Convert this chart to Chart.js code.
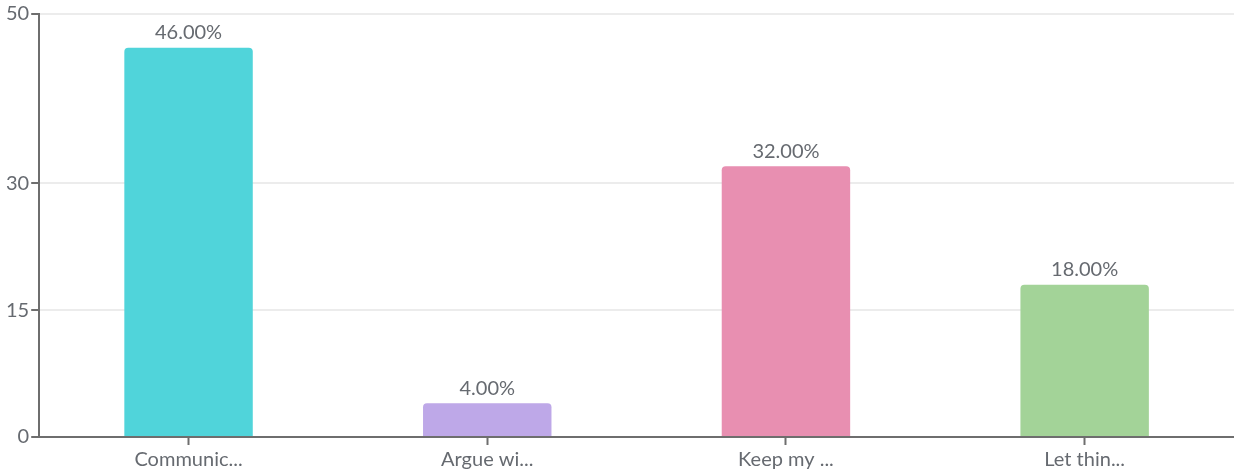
<!DOCTYPE html>
<html lang="en">
<head>
    <meta charset="UTF-8">
    <title>Bar chart</title>
    <style>
        html, body { margin: 0; padding: 0; background: #fff; }
        .chart-container { position: relative; width: 1234px; height: 475px; }
    </style>
</head>
<body>
    <div class="chart-container">
        <canvas id="chart"></canvas>
    </div>

    <script src="https://cdn.jsdelivr.net/npm/chart.js@4/dist/chart.umd.min.js"></script>
    <script>
        // Datos
        const categories = ['Communic...', 'Argue wi...', 'Keep my ...', 'Let thin...'];
        const percentages = [46, 4, 32, 18];
        const barColors = ['#50d4da', '#bea8e8', '#e88fb1', '#a3d398'];
        const yTicks = [0, 15, 30, 50];

        const fontFamily = 'Lato, "Source Sans Pro", sans-serif';
        const textColor = '#666a70';

        // Etiquetas encima de cada barra
        const valueLabels = {
            id: 'valueLabels',
            afterDatasetsDraw(chart) {
                const ctx = chart.ctx;
                const meta = chart.getDatasetMeta(0);
                ctx.save();
                ctx.font = '20px ' + fontFamily;
                ctx.fillStyle = textColor;
                ctx.textAlign = 'center';
                ctx.textBaseline = 'bottom';
                meta.data.forEach((bar, i) => {
                    ctx.fillText(percentages[i].toFixed(2) + '%', bar.x, bar.y - 5);
                });
                ctx.restore();
            }
        };

        const ctx = document.getElementById('chart').getContext('2d');
        const chart = new Chart(ctx, {
            type: 'bar',
            data: {
                labels: categories,
                datasets: [{
                    data: percentages,
                    backgroundColor: barColors,
                    borderRadius: { topLeft: 4, topRight: 4 },
                    borderSkipped: 'bottom',
                    categoryPercentage: 1,
                    barPercentage: 0.43
                }]
            },
            options: {
                responsive: true,
                maintainAspectRatio: false,
                animation: false,
                layout: { padding: { top: 4, right: 0, left: 4, bottom: 0 } },
                plugins: {
                    legend: { display: false },
                    tooltip: { enabled: false }
                },
                scales: {
                    x: {
                        border: { color: '#6e6e6e', width: 2 },
                        grid: { offset: false, drawOnChartArea: false, tickLength: 8, tickColor: '#6e6e6e', tickWidth: 2 },
                        ticks: { color: textColor, font: { family: fontFamily, size: 20 }, padding: 3 }
                    },
                    y: {
                        min: 0,
                        max: 50,
                        afterBuildTicks(axis) {
                            axis.ticks = yTicks.map(v => ({ value: v }));
                        },
                        border: { color: '#6e6e6e', width: 2 },
                        grid: { color: '#ececec', lineWidth: 2, tickLength: 8, tickColor: '#6e6e6e', tickWidth: 2 },
                        ticks: { color: textColor, font: { family: fontFamily, size: 20 }, padding: 2 }
                    }
                }
            },
            plugins: [valueLabels]
        });
    </script>
</body>
</html>
